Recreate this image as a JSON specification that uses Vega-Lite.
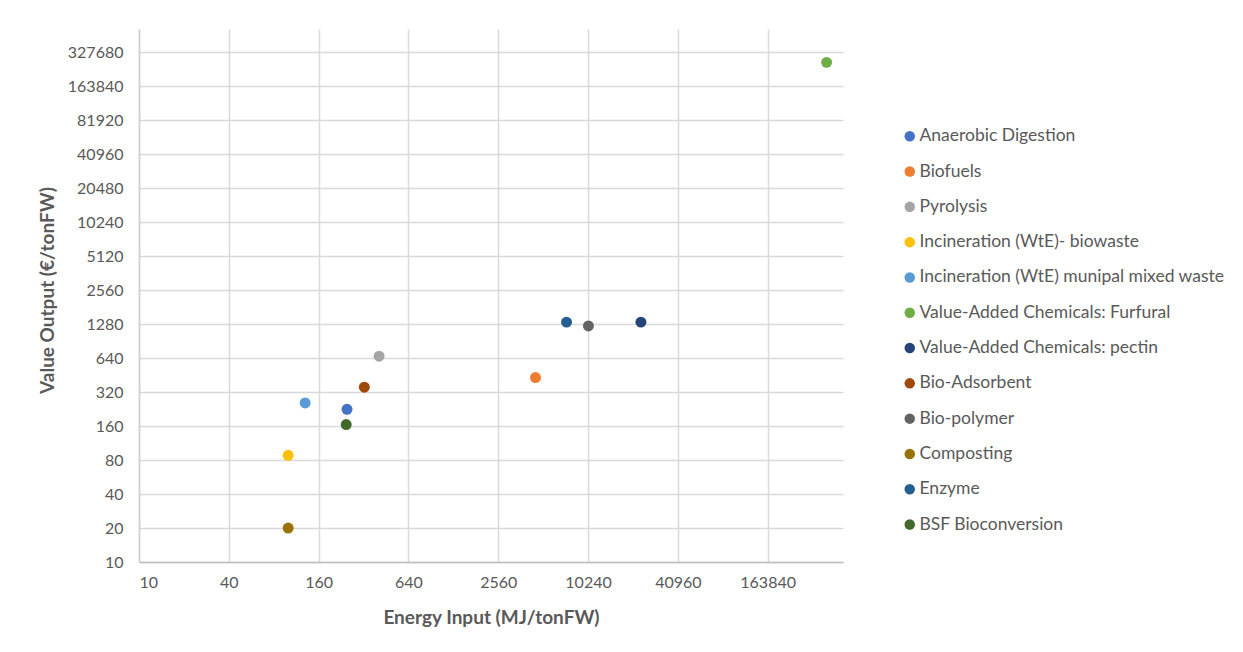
{
  "$schema": "https://vega.github.io/schema/vega-lite/v6.json",
  "width": 704,
  "height": 533,
  "autosize": {"type": "none"},
  "padding": {"left": 139, "top": 29, "right": 400, "bottom": 90},
  "background": "white",
  "config": {"view": {"stroke": null}, "font": "Lato"},
  "data": {
    "values": [
      {"process": "Anaerobic Digestion", "energy": 248, "value": 225},
      {"process": "Biofuels", "energy": 4550, "value": 430},
      {"process": "Pyrolysis", "energy": 407, "value": 664},
      {"process": "Incineration (WtE)- biowaste", "energy": 100, "value": 88},
      {"process": "Incineration (WtE) munipal mixed waste", "energy": 130, "value": 256},
      {"process": "Value-Added Chemicals: Furfural", "energy": 407000, "value": 265600},
      {"process": "Value-Added Chemicals: pectin", "energy": 23170, "value": 1330},
      {"process": "Bio-Adsorbent", "energy": 324, "value": 353},
      {"process": "Bio-polymer", "energy": 10300, "value": 1232},
      {"process": "Composting", "energy": 100, "value": 20},
      {"process": "Enzyme", "energy": 7350, "value": 1330},
      {"process": "BSF Bioconversion", "energy": 245, "value": 165}
    ]
  },
  "mark": {"type": "circle", "size": 120, "opacity": 1},
  "encoding": {
    "x": {
      "field": "energy",
      "type": "quantitative",
      "scale": {"type": "log", "base": 2, "domain": [10, 524288], "nice": false},
      "axis": {
        "values": [10, 40, 160, 640, 2560, 10240, 40960, 163840],
        "format": "d",
        "title": "Energy Input (MJ/tonFW)",
        "titleFont": "Lato",
        "titleFontSize": 19,
        "titleFontWeight": "bold",
        "titleColor": "#595959",
        "titleY": 55,
        "titleBaseline": "middle",
        "labelFont": "Lato",
        "labelFontSize": 16,
        "labelColor": "#595959",
        "labelPadding": 12,
        "ticks": false,
        "domainColor": "#BFBFBF",
        "domainWidth": 1.5,
        "gridColor": "#D9D9D9",
        "gridWidth": 1.5
      }
    },
    "y": {
      "field": "value",
      "type": "quantitative",
      "scale": {"type": "log", "base": 2, "domain": [10, 524288], "nice": false},
      "axis": {
        "values": [10, 20, 40, 80, 160, 320, 640, 1280, 2560, 5120, 10240, 20480, 40960, 81920, 163840, 327680],
        "format": "d",
        "title": "Value Output (€/tonFW)",
        "titleFont": "Lato",
        "titleFontSize": 19,
        "titleFontWeight": "bold",
        "titleColor": "#595959",
        "titleX": -92,
        "titleY": 261,
        "titleAngle": -90,
        "titleAlign": "center",
        "titleBaseline": "middle",
        "labelFont": "Lato",
        "labelFontSize": 16,
        "labelColor": "#595959",
        "labelPadding": 16,
        "ticks": false,
        "domainColor": "#D0D0D0",
        "domainWidth": 1.5,
        "gridColor": "#D9D9D9",
        "gridWidth": 1.5
      }
    },
    "color": {
      "field": "process",
      "type": "nominal",
      "scale": {
        "domain": ["Anaerobic Digestion", "Biofuels", "Pyrolysis", "Incineration (WtE)- biowaste", "Incineration (WtE) munipal mixed waste", "Value-Added Chemicals: Furfural", "Value-Added Chemicals: pectin", "Bio-Adsorbent", "Bio-polymer", "Composting", "Enzyme", "BSF Bioconversion"],
        "range": ["#4472C4", "#ED7D31", "#A5A5A5", "#FFC000", "#5B9BD5", "#70AD47", "#264478", "#9E480E", "#636363", "#997300", "#255E91", "#43682B"]
      },
      "legend": {
        "title": null,
        "orient": "none",
        "legendX": 762,
        "legendY": 98.5,
        "padding": 0,
        "symbolType": "circle",
        "symbolSize": 110,
        "symbolStrokeWidth": 0,
        "symbolOpacity": 1,
        "labelFont": "Lato",
        "labelFontSize": 17.5,
        "labelColor": "#595959",
        "labelOffset": 1,
        "rowPadding": 16.3,
        "labelLimit": 400
      }
    }
  }
}
